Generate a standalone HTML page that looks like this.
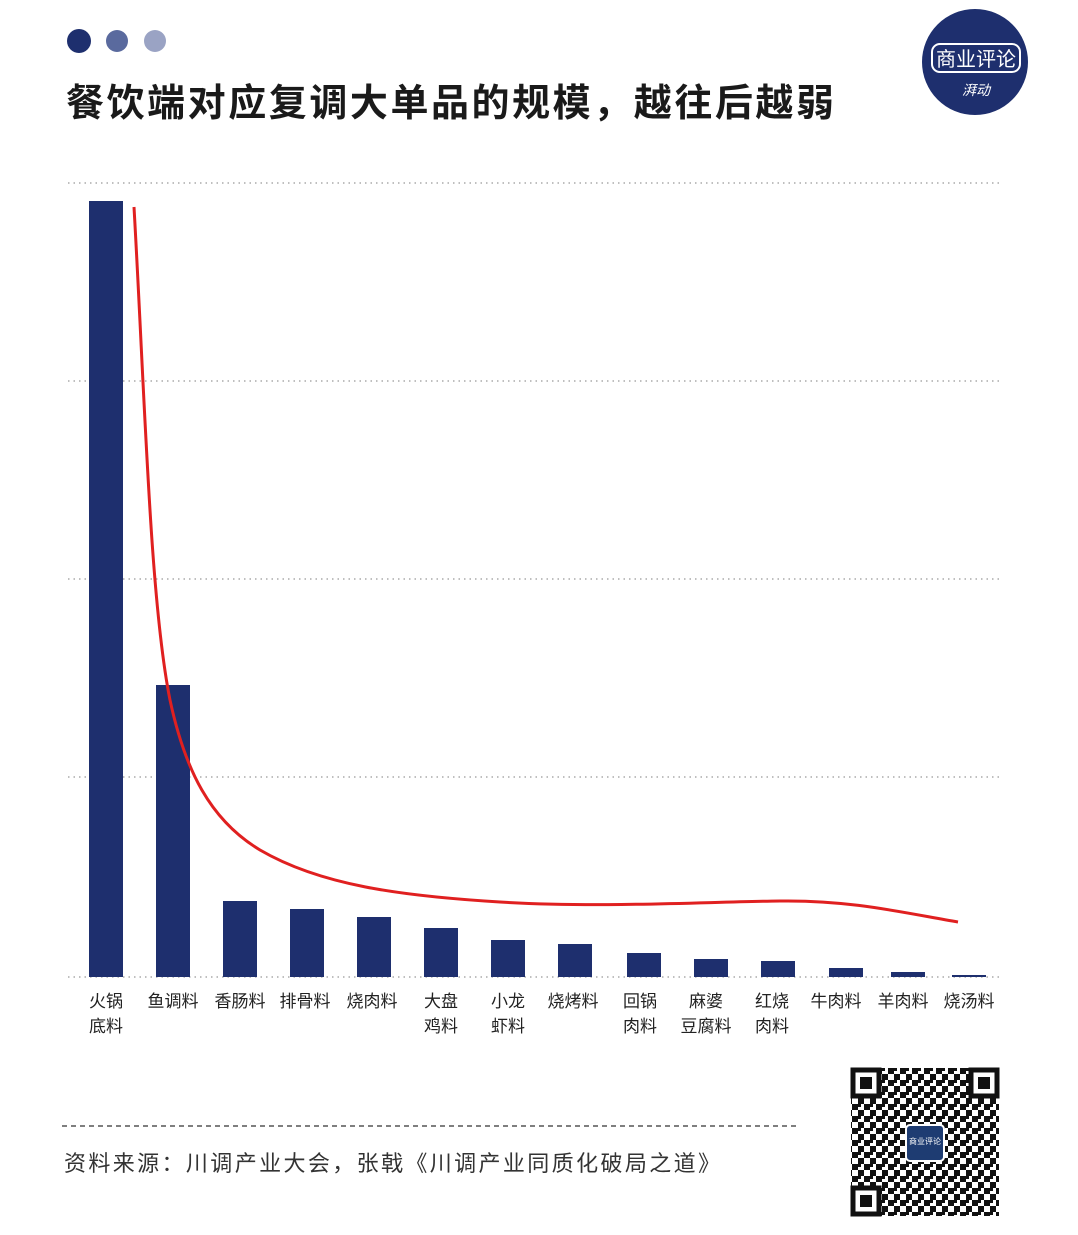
<!DOCTYPE html>
<html><head><meta charset="utf-8"><style>
body{margin:0;width:1078px;height:1235px;background:#fff;overflow:hidden;font-family:"Liberation Sans","Noto Sans CJK SC",sans-serif}
</style></head><body>
<svg width="1078" height="1235" xmlns="http://www.w3.org/2000/svg" style="position:absolute;left:0;top:0">
<defs>
<pattern id="qr" width="12" height="12" patternUnits="userSpaceOnUse">
<rect x="0" y="0" width="6" height="6" fill="#111"/><rect x="6" y="6" width="6" height="6" fill="#111"/><rect x="6" y="0" width="3" height="3" fill="#111"/>
</pattern>
</defs>
<circle cx="79" cy="41" r="12" fill="#1e2f6e"/>
<circle cx="117" cy="41" r="11" fill="#5a6a9e"/>
<circle cx="155" cy="41" r="11" fill="#9aa3c4"/>
<text x="66" y="116" font-size="38" font-weight="bold" fill="#1a1a1a" textLength="768" lengthAdjust="spacing" font-family="Liberation Sans,Noto Sans CJK SC,sans-serif">餐饮端对应复调大单品的规模，越往后越弱</text>
<circle cx="975" cy="62" r="53" fill="#1e2f6e"/>
<rect x="932" y="44" width="88" height="28" rx="8" fill="none" stroke="#fff" stroke-width="2"/>
<text x="976" y="66" font-size="20" fill="#fff" text-anchor="middle" font-family="Noto Sans CJK SC,sans-serif">商业评论</text>
<text x="976" y="95" font-size="14" fill="#fff" text-anchor="middle" font-style="italic" font-family="Noto Sans CJK SC,sans-serif">湃动</text>
<g stroke="#aaa" stroke-width="1.5" stroke-dasharray="1.5,4">
<line x1="68" y1="183" x2="1000" y2="183"/><line x1="68" y1="381" x2="1000" y2="381"/><line x1="68" y1="579" x2="1000" y2="579"/><line x1="68" y1="777" x2="1000" y2="777"/><line x1="68" y1="977" x2="1000" y2="977"/>
</g>
<g fill="#1e2f6e">
<rect x="89" y="201" width="34" height="776"/>
<rect x="156" y="685" width="34" height="292"/>
<rect x="223" y="901" width="34" height="76"/>
<rect x="290" y="909" width="34" height="68"/>
<rect x="357" y="917" width="34" height="60"/>
<rect x="424" y="928" width="34" height="49"/>
<rect x="491" y="940" width="34" height="37"/>
<rect x="558" y="944" width="34" height="33"/>
<rect x="627" y="953" width="34" height="24"/>
<rect x="694" y="959" width="34" height="18"/>
<rect x="761" y="961" width="34" height="16"/>
<rect x="829" y="968" width="34" height="9"/>
<rect x="891" y="972" width="34" height="5"/>
<rect x="952" y="975" width="34" height="2"/>
</g>
<path d="M134,207 C145,400 150,600 170,700 C185,770 210,820 260,850 C320,885 400,896 500,902 C600,908 700,902 780,901 C850,900 900,912 958,922" fill="none" stroke="#e02020" stroke-width="3"/>
<g font-size="17" fill="#222" text-anchor="middle" font-family="Liberation Sans,Noto Sans CJK SC,sans-serif">
<text x="106" y="1007">火锅</text><text x="106" y="1032">底料</text>
<text x="173" y="1007">鱼调料</text>
<text x="240" y="1007">香肠料</text>
<text x="305" y="1007">排骨料</text>
<text x="372" y="1007">烧肉料</text>
<text x="441" y="1007">大盘</text><text x="441" y="1032">鸡料</text>
<text x="508" y="1007">小龙</text><text x="508" y="1032">虾料</text>
<text x="573" y="1007">烧烤料</text>
<text x="640" y="1007">回锅</text><text x="640" y="1032">肉料</text>
<text x="706" y="1007">麻婆</text><text x="706" y="1032">豆腐料</text>
<text x="772" y="1007">红烧</text><text x="772" y="1032">肉料</text>
<text x="836" y="1007">牛肉料</text>
<text x="903" y="1007">羊肉料</text>
<text x="969" y="1007">烧汤料</text>
</g>
<line x1="62" y1="1126" x2="800" y2="1126" stroke="#555" stroke-width="1.5" stroke-dasharray="5,4"/>
<text x="64" y="1171" font-size="22" fill="#333" textLength="656" lengthAdjust="spacing" font-family="Liberation Sans,Noto Sans CJK SC,sans-serif">资料来源：川调产业大会，张戟《川调产业同质化破局之道》</text>
<rect x="851" y="1068" width="148" height="148" fill="url(#qr)"/>
<g fill="#fff" stroke="#111" stroke-width="5">
<rect x="853" y="1070" width="26" height="26"/><rect x="971" y="1070" width="26" height="26"/><rect x="853" y="1188" width="26" height="26"/>
</g>
<g fill="#111"><rect x="860" y="1077" width="12" height="12"/><rect x="978" y="1077" width="12" height="12"/><rect x="860" y="1195" width="12" height="12"/></g>
<rect x="906" y="1125" width="38" height="36" rx="4" fill="#1e3c72" stroke="#fff" stroke-width="2"/>
<text x="925" y="1144" font-size="8" fill="#fff" text-anchor="middle" font-family="Noto Sans CJK SC,sans-serif">商业评论</text>
</svg>
</body></html>
